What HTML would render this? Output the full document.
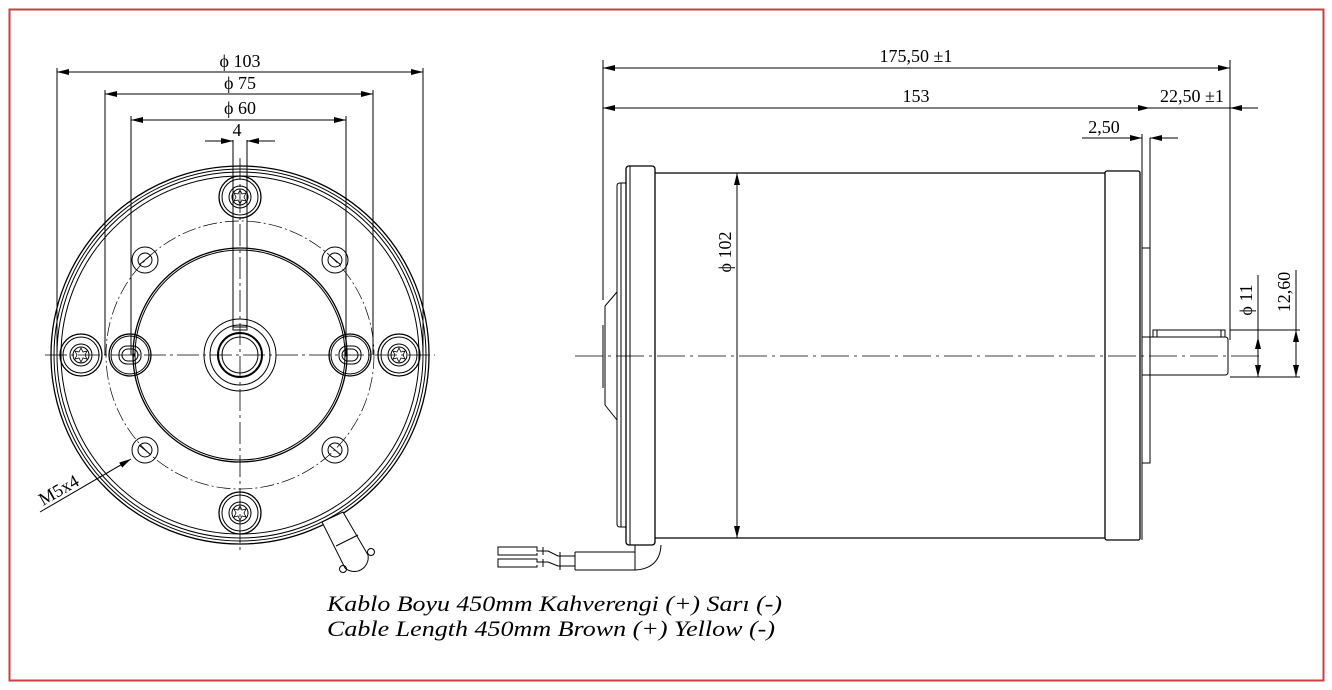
<!DOCTYPE html>
<html><head><meta charset="utf-8"><style>
html,body{margin:0;padding:0;background:#fff;}
svg{display:block;}
text{font-family:"Liberation Serif","Times New Roman",serif;fill:#000;}
</style></head><body>
<svg width="1332" height="690" viewBox="0 0 1332 690" xmlns="http://www.w3.org/2000/svg">
<defs>
<marker id="a" viewBox="0 0 12 6" refX="12" refY="3" markerWidth="12" markerHeight="6" orient="auto-start-reverse" markerUnits="userSpaceOnUse"><path d="M0,0 L12,3 L0,6 z" fill="#000"/></marker>
<g id="tx" fill="none" stroke="#000" stroke-width="1">
<circle r="21" stroke-width="1.3"/><circle r="18"/><circle r="11"/><circle r="8"/>
<path d="M0,-7 L2,-3 L6,-4 L4,0 L6,4 L2,3 L0,7 L-2,3 L-6,4 L-4,0 L-6,-4 L-2,-3 Z" stroke-width="0.8"/>
</g>
</defs>
<rect x="9.5" y="9.5" width="1314" height="671" fill="none" stroke="#c84040" stroke-width="2"/>
<g fill="none" stroke="#000" stroke-width="1">
<!-- LEFT VIEW -->
<line x1="45" y1="355" x2="435" y2="355" stroke-dasharray="22,4,3,4" stroke-width="0.8"/>
<line x1="240" y1="158" x2="240" y2="552" stroke-dasharray="22,4,3,4" stroke-width="0.8"/>
<circle cx="240" cy="355" r="189" stroke-width="1.3"/>
<circle cx="240" cy="355" r="186"/>
<circle cx="240" cy="355" r="183"/>
<circle cx="240" cy="355" r="179"/>
<circle cx="240" cy="355" r="134" stroke-dasharray="14,3,2,3" stroke-width="0.7"/>
<circle cx="240" cy="355" r="107" stroke-width="1.3"/>
<circle cx="240" cy="355" r="105"/>
<circle cx="240" cy="355" r="36"/><circle cx="240" cy="355" r="30"/>
<circle cx="240" cy="355" r="22" stroke-width="2"/><circle cx="240" cy="355" r="18"/>
<path d="M233,140 V330 H247 V140"/>
<line x1="233" y1="327" x2="247" y2="327"/>
<use href="#tx" x="240" y="197"/><use href="#tx" x="240" y="513"/>
<use href="#tx" x="81" y="355"/><use href="#tx" x="399" y="355"/>
<g transform="translate(130,355)"><circle r="21" stroke-width="1.3"/><circle r="19"/><rect x="-11" y="-9" width="22" height="18" rx="8"/><rect x="-8" y="-6" width="16" height="12" rx="6"/><circle cx="4" r="1" fill="#000"/></g>
<g transform="translate(350,355)"><circle r="21" stroke-width="1.3"/><circle r="19"/><rect x="-11" y="-9" width="22" height="18" rx="8"/><rect x="-8" y="-6" width="16" height="12" rx="6"/><circle cx="-4" r="1" fill="#000"/></g>
<g transform="translate(145,260)"><circle r="13"/><circle r="7"/><line x1="-6" y1="5" x2="6" y2="-5"/></g>
<g transform="translate(335,260)"><circle r="13"/><circle r="7"/><line x1="-6" y1="-5" x2="6" y2="5"/></g>
<g transform="translate(145,450)"><circle r="13"/><circle r="7"/><line x1="-6" y1="-5" x2="6" y2="5"/></g>
<g transform="translate(335,450)"><circle r="13"/><circle r="7"/><line x1="-6" y1="-5" x2="6" y2="5"/></g>
<path d="M322,522 L343,512 L368,555 A14,14 0 0 1 345,568 Z" fill="#fff"/>
<line x1="336" y1="546" x2="358" y2="535"/>
<circle cx="343" cy="569" r="3.5"/><circle cx="371" cy="552" r="3.5"/>
<line x1="57" y1="68" x2="57" y2="355"/><line x1="423" y1="68" x2="423" y2="355"/>
<line x1="57" y1="72" x2="423" y2="72" marker-start="url(#a)" marker-end="url(#a)"/>
<line x1="105" y1="90" x2="105" y2="355"/><line x1="373" y1="90" x2="373" y2="355"/>
<line x1="105" y1="94" x2="373" y2="94" marker-start="url(#a)" marker-end="url(#a)"/>
<line x1="131" y1="116" x2="131" y2="355"/><line x1="346" y1="116" x2="346" y2="355"/>
<line x1="131" y1="120" x2="346" y2="120" marker-start="url(#a)" marker-end="url(#a)"/>
<line x1="205" y1="141" x2="233" y2="141" marker-end="url(#a)"/>
<line x1="275" y1="141" x2="247" y2="141" marker-end="url(#a)"/>
<line x1="40" y1="512" x2="131" y2="459" marker-end="url(#a)"/>

<!-- RIGHT VIEW -->
<line x1="575" y1="356" x2="1262" y2="356" stroke-dasharray="28,5,3,5" stroke-width="0.8"/>
<rect x="626" y="166" width="29" height="379" rx="3" stroke-width="1.3"/>
<line x1="630" y1="166" x2="630" y2="545"/>
<path d="M626,183 H620 Q617,183 617,186 V524 Q617,527 620,527 H626"/>
<line x1="621" y1="183" x2="621" y2="527"/>
<path d="M617,292 L605,306 V405 L617,420"/>
<line x1="603" y1="325" x2="603" y2="388"/><line x1="603" y1="60" x2="603" y2="300"/>
<line x1="655" y1="173" x2="1105" y2="173" stroke-width="1.3"/>
<line x1="655" y1="538" x2="1105" y2="538" stroke-width="1.3"/>
<rect x="1105" y="171" width="35" height="369" rx="2" stroke-width="1.3"/>
<line x1="1142" y1="171" x2="1142" y2="540"/>
<rect x="1142" y="248" width="8" height="215"/>
<line x1="1150" y1="138" x2="1150" y2="248"/><line x1="1142" y1="134" x2="1142" y2="171"/>
<rect x="1142" y="337" width="8" height="38"/>
<path d="M1150,337 H1225 Q1228,337 1228,340 V372 Q1228,375 1225,375 H1150"/>
<rect x="1153" y="330" width="72" height="7"/>
<line x1="1157" y1="330" x2="1157" y2="337"/><line x1="1221" y1="330" x2="1221" y2="337"/>
<path d="M635,545 V570 M635,570 H636 Q660,568 661,545"/>
<path d="M575,552 H635 M575,570 H635"/>
<line x1="575" y1="552" x2="575" y2="570"/>
<path d="M575,556 H558 L548,551 H537 V547 H498 V555 H537 V553"/>
<path d="M575,566 H558 L548,562 H537 V559 H498 V567 H537 V565"/>
<line x1="543" y1="547" x2="543" y2="555"/><line x1="543" y1="559" x2="543" y2="567"/>
<line x1="560" y1="552" x2="560" y2="570"/>
<line x1="1230" y1="60" x2="1230" y2="340"/>
<line x1="603" y1="68" x2="1230" y2="68" marker-start="url(#a)" marker-end="url(#a)"/>
<line x1="603" y1="108" x2="1150" y2="108" marker-start="url(#a)" marker-end="url(#a)"/>
<line x1="1150" y1="108" x2="1230" y2="108"/>
<line x1="1258" y1="108" x2="1230" y2="108" marker-end="url(#a)"/>
<line x1="1082" y1="138" x2="1142" y2="138" marker-end="url(#a)"/>
<line x1="1178" y1="138" x2="1150" y2="138" marker-end="url(#a)"/>
<line x1="737" y1="173" x2="737" y2="538" marker-start="url(#a)" marker-end="url(#a)"/>
<line x1="1230" y1="330" x2="1300" y2="330"/><line x1="1230" y1="377" x2="1300" y2="377"/>
<line x1="1258" y1="275" x2="1258" y2="337"/>
<line x1="1258" y1="337" x2="1258" y2="377" marker-start="url(#a)" marker-end="url(#a)"/>
<line x1="1296" y1="270" x2="1296" y2="330"/>
<line x1="1296" y1="330" x2="1296" y2="377" marker-start="url(#a)" marker-end="url(#a)"/>
</g>
<g font-size="18" font-family="Liberation Serif, serif">
<text x="240" y="67" text-anchor="middle">ϕ 103</text>
<text x="240" y="89" text-anchor="middle">ϕ 75</text>
<text x="240" y="114" text-anchor="middle">ϕ 60</text>
<text x="237" y="136" text-anchor="middle">4</text>
<text transform="translate(43,506) rotate(-30)">M5x4</text>
<text x="916" y="62" text-anchor="middle">175,50 ±1</text>
<text x="916" y="102" text-anchor="middle">153</text>
<text x="1192" y="102" text-anchor="middle">22,50 ±1</text>
<text x="1104" y="133" text-anchor="middle">2,50</text>
<text transform="translate(731,252) rotate(-90)" text-anchor="middle">ϕ 102</text>
<text transform="translate(1252,300) rotate(-90)" text-anchor="middle">ϕ 11</text>
<text transform="translate(1290,292) rotate(-90)" text-anchor="middle">12,60</text>
</g>
<g font-size="22" font-style="italic" font-family="Liberation Serif, serif">
<text x="327" y="611" textLength="455" lengthAdjust="spacingAndGlyphs">Kablo Boyu 450mm Kahverengi (+) Sarı (-)</text>
<text x="327" y="636" textLength="448" lengthAdjust="spacingAndGlyphs">Cable Length 450mm Brown (+) Yellow (-)</text>
</g>
</svg>
</body></html>
